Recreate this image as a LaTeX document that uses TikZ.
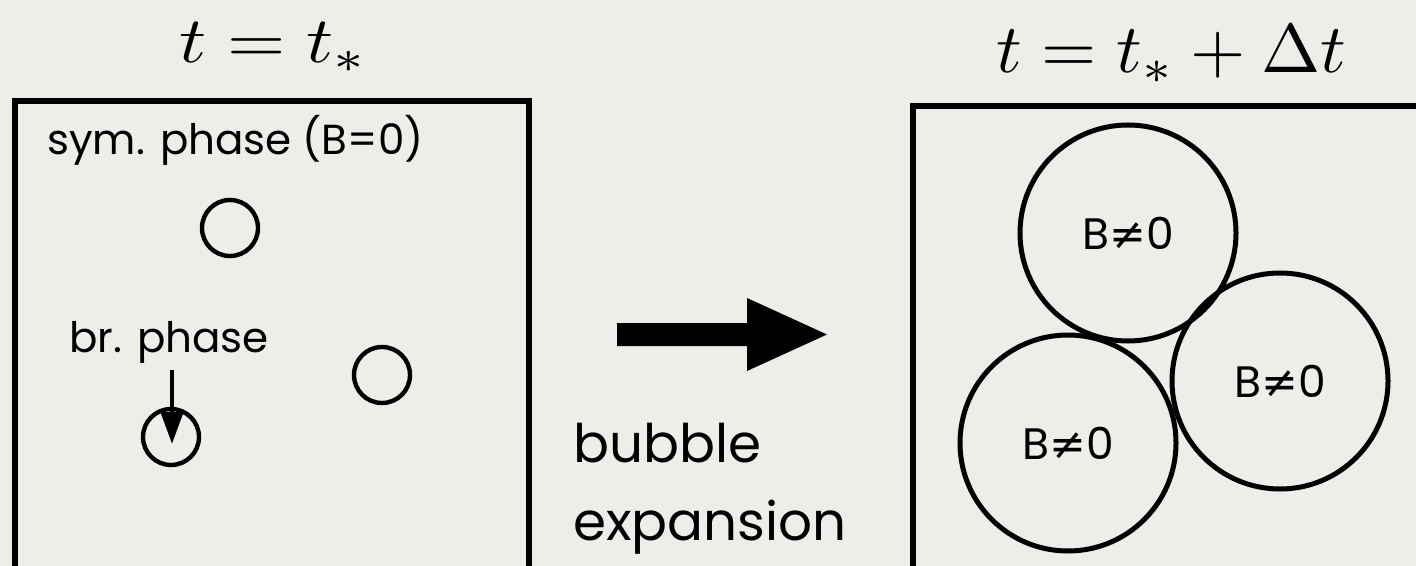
\documentclass[tikz,border=0pt]{standalone}
\usepackage{fontspec}
\setmainfont{Poppins}
\newfontfamily\symfont{DejaVu Sans}
\usetikzlibrary{arrows.meta}
\definecolor{bg}{RGB}{238,237,233}
\newcommand{\neqsym}{{\symfont ≠}}
\begin{document}
\begin{tikzpicture}[x=0.5pt,y=-0.5pt,
  boxline/.style={line width=2.6pt},
  smallbubble/.style={circle,draw,line width=2.2pt,inner sep=0pt,minimum size=28pt},
  bigbubble/.style={circle,draw,line width=2.5pt,inner sep=0pt,minimum size=108pt,font=\fontsize{22}{26}\selectfont},
  lbl/.style={font=\fontsize{21}{25}\selectfont,inner sep=0pt,anchor=base west},
  biglbl/.style={font=\fontsize{26.6}{30}\selectfont,inner sep=0pt,anchor=base west},
  ttl/.style={inner sep=0pt,anchor=base}]
\useasboundingbox (0,0) rectangle (1416,566);
\fill[bg] (0,0) rectangle (1416,566);
\begin{scope}
  \clip (0,0) rectangle (1416,566);
  \draw[boxline] (15,101) rectangle (529,600);
  \draw[boxline] (913,106) rectangle (1450,600);
\end{scope}
% titles
\node[ttl] (t1) at (273.5,63) {\scalebox{3.75}[3.25]{$t=t_*$}};
\node[ttl] (t2) at (1171.5,73) {\scalebox{3.55}[3.45]{$t=t_*+\Delta t$}};
% left box
\node[lbl] (sym) at (47,155) {sym. phase (B=0)};
\node[smallbubble] (c1) at (230,228) {};
\node[smallbubble] (c2) at (382,375) {};
\node[smallbubble] (c3) at (171,437) {};
\node[lbl] (br) at (69,352) {br. phase};
\coordinate (as) at (172,370);
\coordinate (ae) at (172,444);
\draw[line width=2.2pt,-{Triangle[length=16pt,width=11pt]}] (as) -- (ae);
% big arrow
\fill (617,323) -- (747,323) -- (747,298) -- (827,334.5) -- (747,371) -- (747,346) -- (617,346) -- cycle;
\node[biglbl] (bub) at (573,462) {bubble};
\node[biglbl] (exp) at (573,540) {expansion};
% right box
\node[bigbubble] (b1) at (1128,233) {B\neqsym0};
\node[bigbubble] (b2) at (1280,381) {B\neqsym0};
\node[bigbubble] (b3) at (1068,443) {B\neqsym0};
\end{tikzpicture}
\end{document}
